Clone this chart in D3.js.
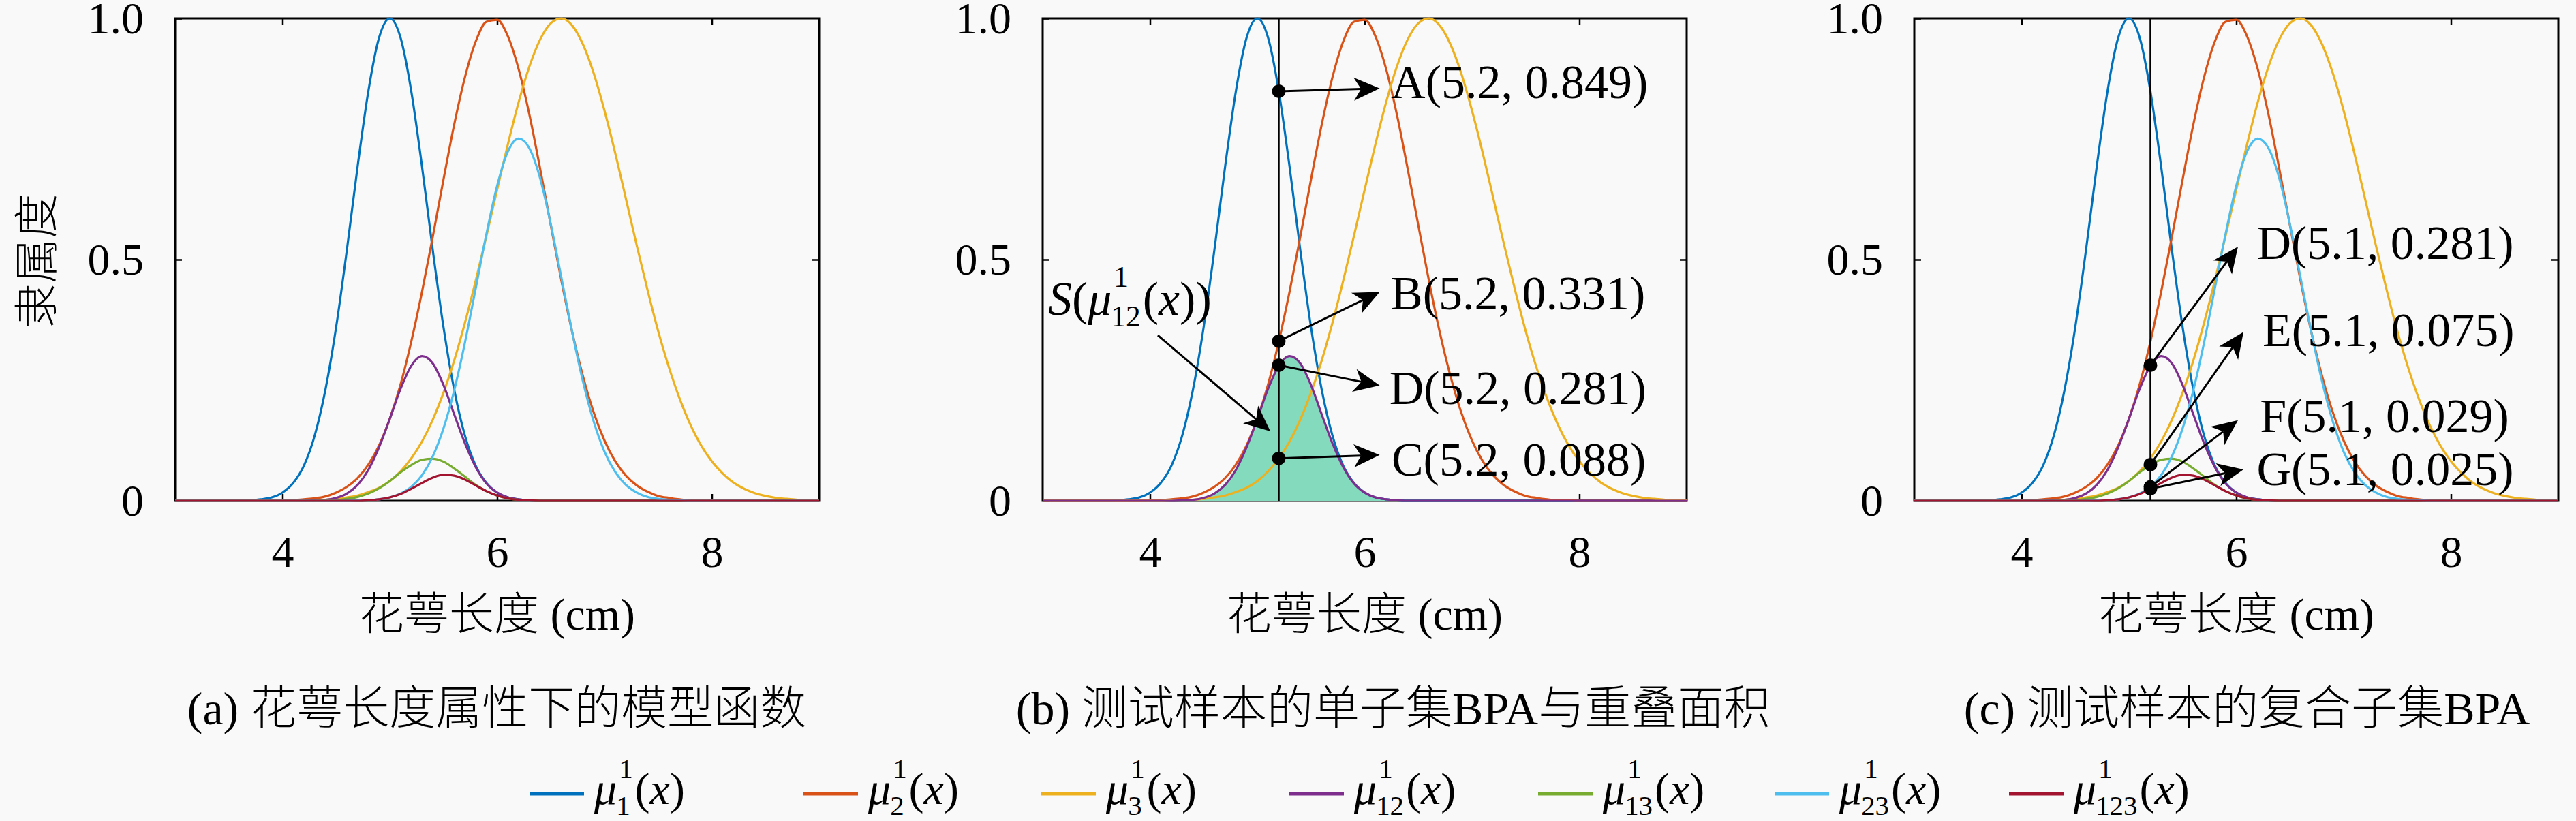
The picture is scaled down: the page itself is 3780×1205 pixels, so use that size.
<!DOCTYPE html>
<html>
<head>
<meta charset="utf-8">
<script src="https://cdn.jsdelivr.net/npm/d3@7"></script>
<style>
  html, body { margin: 0; padding: 0; background: #f9f9f9; }
  svg { display: block; }
  text { font-family: 'Liberation Serif', 'Noto Sans CJK SC', serif; fill: #000; }
  .cjk { font-weight: 300; }
</style>
</head>
<body>
<svg id="chart" width="3780" height="1205"></svg>
<script>
// ---------------- data ----------------
const Z10 = [0, 0, 0, 0, 0, 0, 0, 0, 0, 0];

// sepal length grid, 3.0 .. 9.0
const xs = [3.0, 3.1, 3.2, 3.3, 3.4, 3.5, 3.6, 3.7, 3.8, 3.9,
  4.0, 4.1, 4.2, 4.3, 4.4, 4.5, 4.6, 4.7, 4.8, 4.9,
  5.0, 5.1, 5.2, 5.3, 5.4, 5.5, 5.6, 5.7, 5.8, 5.9,
  6.0, 6.1, 6.2, 6.3, 6.4, 6.5, 6.6, 6.7, 6.8, 6.9,
  7.0, 7.1, 7.2, 7.3, 7.4, 7.5, 7.6, 7.7, 7.8, 7.9,
  8.0, 8.1, 8.2, 8.3, 8.4, 8.5, 8.6, 8.7, 8.8, 8.9, 9.0];

const mu1 = [0, 0, 0, 0, 0, 0, 0, 0.001, 0.003, 0.007,
  0.017, 0.037, 0.073, 0.135, 0.230, 0.360, 0.520, 0.693, 0.849, 0.960,
  1.000, 0.960, 0.849, 0.693, 0.520, 0.360, 0.230, 0.135, 0.073, 0.037,
  0.017, 0.007, 0.003, 0.001, 0, 0, 0, 0, 0, 0,
  ...Z10, ...Z10, 0];

const mu2 = [...Z10,
  0.001, 0.001, 0.003, 0.005, 0.009, 0.017, 0.029, 0.047, 0.075, 0.115,
  0.170, 0.241, 0.330, 0.433, 0.547, 0.666, 0.780, 0.878, 0.952, 0.993,
  0.997, 0.963, 0.895, 0.801, 0.689, 0.571, 0.455, 0.349, 0.258, 0.183,
  0.125, 0.082, 0.052, 0.032, 0.019, 0.010, 0.006, 0.003, 0.001, 0.001,
  ...Z10, 0];

const mu3 = [...Z10,
  0, 0, 0.001, 0.001, 0.002, 0.004, 0.007, 0.011, 0.018, 0.027,
  0.041, 0.061, 0.088, 0.123, 0.168, 0.224, 0.291, 0.369, 0.456, 0.549,
  0.645, 0.739, 0.826, 0.900, 0.956, 0.990, 1.000, 0.985, 0.946, 0.886,
  0.809, 0.721, 0.626, 0.530, 0.438, 0.352, 0.277, 0.212, 0.158, 0.115,
  0.082, 0.057, 0.038, 0.025, 0.016, 0.010, 0.006, 0.004, 0.002, 0.001, 0.001];

const mu12 = [...Z10,
  0, 0, 0, 0.001, 0.002, 0.006, 0.015, 0.033, 0.064, 0.111,
  0.170, 0.232, 0.280, 0.300, 0.285, 0.240, 0.179, 0.119, 0.070, 0.036,
  0.017, 0.007, 0.003, 0.001, 0, 0, 0, 0, 0, 0,
  ...Z10, ...Z10, 0];

const mu13 = [...Z10,
  0, 0, 0, 0, 0.001, 0.001, 0.004, 0.008, 0.015, 0.026,
  0.041, 0.059, 0.074, 0.085, 0.087, 0.081, 0.067, 0.050, 0.033, 0.020,
  0.011, 0.005, 0.002, 0.001, 0, 0, 0, 0, 0, 0,
  ...Z10, ...Z10, 0];

const mu23 = [...Z10,
  0, 0, 0, 0, 0, 0, 0, 0.001, 0.001, 0.003,
  0.007, 0.015, 0.029, 0.053, 0.092, 0.150, 0.229, 0.328, 0.440, 0.553,
  0.653, 0.724, 0.751, 0.731, 0.669, 0.573, 0.461, 0.349, 0.247, 0.164,
  0.102, 0.060, 0.033, 0.017, 0.008, 0.004, 0.002, 0.001, 0, 0,
  ...Z10, 0];

const mu123 = [...Z10,
  0, 0, 0, 0, 0, 0, 0, 0, 0.001, 0.003,
  0.007, 0.014, 0.025, 0.037, 0.048, 0.054, 0.052, 0.044, 0.032, 0.020,
  0.011, 0.005, 0.002, 0.001, 0, 0, 0, 0, 0, 0,
  ...Z10, ...Z10, 0];

const series = [mu1, mu2, mu3, mu12, mu13, mu23, mu123];
const seriesSubs = ["1", "2", "3", "12", "13", "23", "123"];
const seriesColors = ["#0072BD", "#D95319", "#EDB120", "#7E2F8E", "#77AC30", "#4DBEEE", "#A2142F"];

const xTickValues = [4, 6, 8];
const xTickLabels = ["4", "6", "8"];
const yTickValues = [0, 0.5, 1];
const yTickLabels = ["0", "0.5", "1.0"];

const testX = 5.2;
const bLabels = ["A(5.2, 0.849)", "B(5.2, 0.331)", "D(5.2, 0.281)", "C(5.2, 0.088)"];
const bValues = [0.849, 0.331, 0.281, 0.088];
const cLabels = ["D(5.1, 0.281)", "E(5.1, 0.075)", "F(5.1, 0.029)", "G(5.1, 0.025)"];
const cValues = [0.281, 0.075, 0.029, 0.025];

const panelTitles = ["(a) 花萼长度属性下的模型函数", "(b) 测试样本的单子集BPA与重叠面积", "(c) 测试样本的复合子集BPA"];
const xLabel = "花萼长度 (cm)";
const yLabel = "隶属度";

// ---------------- layout ----------------
const panelLeft = [257, 1530, 2809];
const plotW = 945, plotTop = 27, plotBottom = 735;
const FS = 66;     // tick / label size
const AFS = 70;    // annotation size
const titleCenter = [729, 2044, 3297];
const legendStart = [777, 1179, 1528, 1892, 2257, 2604, 2948];

// arrow tips / text anchors in data units
const bTips = [[6.14, 0.855], [6.14, 0.433], [6.14, 0.239], [6.14, 0.095]];
const bTextY = [0.860, 0.422, 0.226, 0.078];
const bTextX = [6.245, 6.245, 6.23, 6.25];
const cTips = [[6.016, 0.527], [6.067, 0.350], [6.016, 0.167], [6.067, 0.065]];
const cTextY = [0.527, 0.346, 0.168, 0.058];
const cTextX = [6.19, 6.245, 6.22, 6.19];

const svg = d3.select("#chart");
svg.append("rect").attr("width", 3780).attr("height", 1205).attr("fill", "#f9f9f9");

// small helper for the mu^1_{..}(x) labels
function muLabel(g, x0, base, sub, fs, wrapS) {
  let cx = x0;
  const put = (str, x, y, size, italic) => {
    const t = g.append("text")
      .attr("x", x).attr("y", y)
      .attr("font-size", size)
      .attr("font-style", italic ? "italic" : "normal")
      .text(str);
    return t.node().getComputedTextLength();
  };
  if (wrapS) {
    cx += put("S", cx, base, fs, true);
    cx += put("(", cx, base, fs, false);
  }
  cx += put("μ", cx, base, fs, true);
  const ss = fs * 0.62;
  const w1 = put("1", cx + 3, base - 0.58 * fs, ss, false);
  const w2 = put(sub, cx - 1, base + 0.24 * fs, ss, false);
  cx += Math.max(w1 + 3, w2 - 1) + 3;
  cx += put("(", cx, base, fs, false);
  cx += put("x", cx, base, fs, true);
  cx += put(")", cx, base, fs, false);
  if (wrapS) cx += put(")", cx, base, fs, false);
  return cx - x0;
}

function arrow(g, x0, y0, x1, y1) {
  const L = 38, Wd = 34;
  const a = Math.atan2(y1 - y0, x1 - x0);
  const ux = Math.cos(a), uy = Math.sin(a);
  const px = -uy, py = ux;
  const bx = x1 - L * ux, by = y1 - L * uy;
  const nx = x1 - 0.72 * L * ux, ny = y1 - 0.72 * L * uy;
  g.append("line")
    .attr("x1", x0).attr("y1", y0).attr("x2", nx).attr("y2", ny)
    .attr("stroke", "#000").attr("stroke-width", 3);
  g.append("path")
    .attr("d", `M${x1},${y1}L${bx + px * Wd / 2},${by + py * Wd / 2}L${nx},${ny}L${bx - px * Wd / 2},${by - py * Wd / 2}Z`)
    .attr("fill", "#000");
}

function drawPanel(i, shown) {
  const g = svg.append("g").attr("transform", `translate(${panelLeft[i]},0)`);
  const x = d3.scaleLinear().domain([3, 9]).range([0, plotW]);
  const y = d3.scaleLinear().domain([0, 1]).range([plotBottom, plotTop]);

  // axes (ticks point inward)
  const styleAxis = a => {
    a.select(".domain").remove();
    a.attr("font-size", FS);
    a.selectAll(".tick line").attr("stroke-width", 2.5);
  };
  g.append("g").attr("transform", `translate(0,${plotBottom})`)
    .call(d3.axisBottom(x).tickValues(xTickValues).tickSizeInner(-10).tickSizeOuter(0).tickPadding(50)
      .tickFormat((d, k) => xTickLabels[k]))
    .call(styleAxis);
  g.append("g").attr("transform", `translate(0,${plotTop})`)
    .call(d3.axisTop(x).tickValues(xTickValues).tickSizeInner(-10).tickSizeOuter(0).tickFormat(""))
    .call(styleAxis);
  g.append("g")
    .call(d3.axisLeft(y).tickValues(yTickValues).tickSizeInner(-10).tickSizeOuter(0).tickPadding(46)
      .tickFormat((d, k) => yTickLabels[k]))
    .call(styleAxis);
  g.append("g").attr("transform", `translate(${plotW},0)`)
    .call(d3.axisRight(y).tickValues([0.5]).tickSizeInner(-10).tickSizeOuter(0).tickFormat(""))
    .call(styleAxis);

  g.append("rect")
    .attr("x", 0).attr("y", plotTop)
    .attr("width", plotW).attr("height", plotBottom - plotTop)
    .attr("fill", "none").attr("stroke", "#000").attr("stroke-width", 3);

  // overlap area S(mu12) only in panel b
  if (i === 1) {
    const area = d3.area()
      .x((d, k) => x(xs[k]))
      .y0(y(0))
      .y1(d => y(d))
      .curve(d3.curveMonotoneX);
    g.append("path").datum(mu12).attr("d", area).attr("fill", "#84dabd");
  }

  const line = d3.line()
    .x((d, k) => x(xs[k]))
    .y(d => y(d))
    .curve(d3.curveMonotoneX);
  shown.forEach(s => {
    g.append("path").datum(series[s])
      .attr("d", line)
      .attr("fill", "none")
      .attr("stroke", seriesColors[s])
      .attr("stroke-width", 3.2);
  });

  // x label
  g.append("text").attr("class", "cjk")
    .attr("x", plotW / 2).attr("y", 924)
    .attr("text-anchor", "middle").attr("font-size", FS)
    .text(xLabel);

  return { g, x, y };
}

const pa = drawPanel(0, [0, 1, 2, 3, 4, 5, 6]);
const pb = drawPanel(1, [0, 1, 2, 3]);
const pc = drawPanel(2, [0, 1, 2, 3, 4, 5, 6]);

// y label
svg.append("text").attr("class", "cjk")
  .attr("transform", "translate(54,383) rotate(-90)")
  .attr("text-anchor", "middle").attr("dominant-baseline", "central")
  .attr("font-size", FS)
  .text(yLabel);

// annotations
function annotate(p, labels, values, tips, textX, textY) {
  const { g, x, y } = p;
  g.append("line")
    .attr("x1", x(testX)).attr("x2", x(testX))
    .attr("y1", y(0)).attr("y2", y(1))
    .attr("stroke", "#000").attr("stroke-width", 2.5);
  values.forEach((v, k) => {
    arrow(g, x(testX), y(v), x(tips[k][0]), y(tips[k][1]));
  });
  values.forEach(v => {
    g.append("circle").attr("cx", x(testX)).attr("cy", y(v)).attr("r", 10).attr("fill", "#000");
  });
  labels.forEach((lab, k) => {
    g.append("text")
      .attr("x", x(textX[k])).attr("y", y(textY[k]) + 18)
      .attr("font-size", AFS)
      .text(lab);
  });
}
annotate(pb, bLabels, bValues, bTips, bTextX, bTextY);
annotate(pc, cLabels, cValues, cTips, cTextX, cTextY);

// S(mu12) label and arrow in panel b
muLabel(pb.g, pb.x(3.05), pb.y(0.411) + 18, "12", AFS, true);
arrow(pb.g, pb.x(4.073), pb.y(0.343), pb.x(5.121), pb.y(0.144));

// captions
panelTitles.forEach((t, i) => {
  svg.append("text").attr("class", "cjk")
    .attr("x", titleCenter[i]).attr("y", 1063)
    .attr("text-anchor", "middle").attr("font-size", 68)
    .text(t);
});

// legend
const legend = svg.append("g");
seriesSubs.forEach((sub, i) => {
  const x0 = legendStart[i];
  legend.append("line")
    .attr("x1", x0).attr("x2", x0 + 80)
    .attr("y1", 1165).attr("y2", 1165)
    .attr("stroke", seriesColors[i]).attr("stroke-width", 5);
  muLabel(legend, x0 + 95, 1180, sub, FS, false);
});
</script>
</body>
</html>
